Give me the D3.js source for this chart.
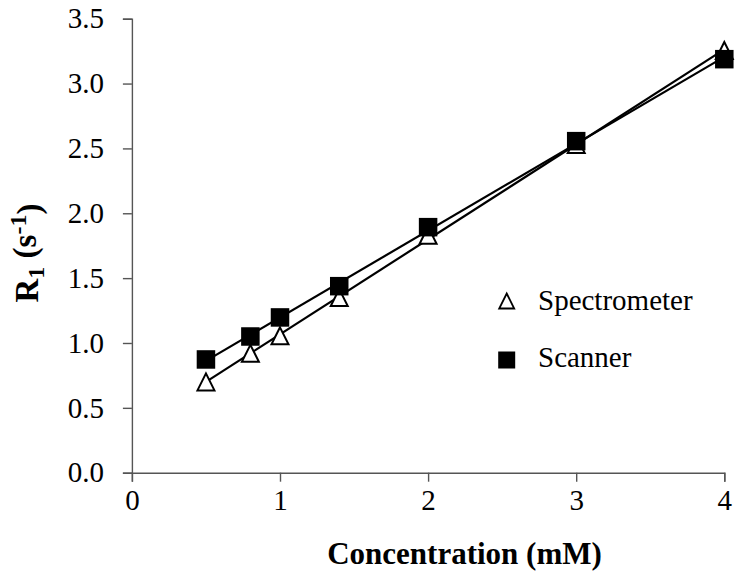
<!DOCTYPE html>
<html>
<head>
<meta charset="utf-8">
<script src="https://cdn.jsdelivr.net/npm/d3@7"></script>
<style>
  html, body { margin: 0; padding: 0; background: #fff; }
  svg { display: block; }
  svg text { font-family: "Liberation Serif", serif; }
</style>
</head>
<body>
<svg id="chart" width="736" height="576"></svg>
<script>
// ---- data ----
const concentrations = [0.5, 0.8, 1.0, 1.4, 2.0, 3.0, 4.0];
const spectrometer = [0.70, 0.92, 1.055, 1.35, 1.83, 2.53, 3.255];
const scanner = [0.873, 1.05, 1.197, 1.438, 1.893, 2.556, 3.188];
const seriesNames = ["Spectrometer", "Scanner"];
const xTicks = [0, 1, 2, 3, 4];
const yTicks = [0, 0.5, 1.0, 1.5, 2.0, 2.5, 3.0, 3.5];

// ---- layout ----
const svg = d3.select("#chart");
const plotLeft = 131.9, plotRight = 724.3, plotTop = 18.7, plotBottom = 472.7;
const x = d3.scaleLinear().domain([0, 4]).range([plotLeft, plotRight]);
const y = d3.scaleLinear().domain([0, 3.5]).range([plotBottom, plotTop]);
const font = "Liberation Serif";
const axisColor = "#555";

// axes
const xAxis = svg.append("g").attr("transform", `translate(0,${plotBottom})`)
  .call(d3.axisBottom(x).tickValues(xTicks).tickFormat(d3.format("d")).tickSizeOuter(0).tickSize(9).tickPadding(8));
const yAxis = svg.append("g").attr("transform", `translate(${plotLeft},0)`)
  .call(d3.axisLeft(y).tickValues(yTicks).tickFormat(d3.format(".1f")).tickSizeOuter(0).tickSize(9).tickPadding(19));
[xAxis, yAxis].forEach(g => {
  g.attr("font-family", font).attr("font-size", 29);
  g.selectAll("path.domain").attr("stroke", axisColor).attr("stroke-width", 1.4);
  g.selectAll(".tick line").attr("stroke", axisColor).attr("stroke-width", 1.4);
  g.selectAll(".tick text").attr("fill", "#000");
});

// regression trend lines
function fit(xs, ys) {
  const n = xs.length;
  const mx = d3.mean(xs), my = d3.mean(ys);
  let sxy = 0, sxx = 0;
  for (let i = 0; i < n; i++) { sxy += (xs[i]-mx)*(ys[i]-my); sxx += (xs[i]-mx)**2; }
  const b = sxy / sxx, a = my - b*mx;
  return v => a + b*v;
}
const xExtent = d3.extent(concentrations);
[spectrometer, scanner].forEach(vals => {
  const f = fit(concentrations, vals);
  svg.append("line")
    .attr("x1", x(xExtent[0])).attr("y1", y(f(xExtent[0])))
    .attr("x2", x(xExtent[1])).attr("y2", y(f(xExtent[1])))
    .attr("stroke", "#000").attr("stroke-width", 2.2);
});

// markers
const triSize = 19, sqSize = 18.5;
function triPath(cx, cy, s) {
  const h = s;
  return `M${cx},${cy - h/2}L${cx + s/2},${cy + h/2}L${cx - s/2},${cy + h/2}Z`;
}
svg.append("g").selectAll("path")
  .data(concentrations.map((c, i) => [c, spectrometer[i]]))
  .join("path")
  .attr("d", d => triPath(x(d[0]), y(d[1]), triSize - 2))
  .attr("fill", "#fff").attr("stroke", "#000").attr("stroke-width", 2);
svg.append("g").selectAll("rect")
  .data(concentrations.map((c, i) => [c, scanner[i]]))
  .join("rect")
  .attr("x", d => x(d[0]) - sqSize/2).attr("y", d => y(d[1]) - sqSize/2)
  .attr("width", sqSize).attr("height", sqSize)
  .attr("fill", "#000");

// legend
const leg = svg.append("g");
leg.append("path").attr("d", triPath(506.7, 301, 15))
  .attr("fill", "#fff").attr("stroke", "#000").attr("stroke-width", 1.8);
leg.append("rect").attr("x", 506.7 - 8.5).attr("y", 360 - 8.5).attr("width", 17).attr("height", 17).attr("fill", "#000");
leg.selectAll("text").data(seriesNames).join("text")
  .attr("x", 538).attr("y", (d, i) => i === 0 ? 309.5 : 367)
  .attr("font-family", font).attr("font-size", 29)
  .text(d => d);

// axis titles
svg.append("text")
  .attr("x", 464.5).attr("y", 564)
  .attr("text-anchor", "middle")
  .attr("font-family", font).attr("font-size", 31).attr("font-weight", "bold")
  .text("Concentration (mM)");

const yt = svg.append("text")
  .attr("transform", "translate(38,253) rotate(-90)")
  .attr("text-anchor", "middle")
  .attr("font-family", font).attr("font-size", 33).attr("font-weight", "bold");
yt.append("tspan").text("R");
yt.append("tspan").attr("dy", "0.25em").attr("font-size", 24).text("1");
yt.append("tspan").attr("dy", "-0.25em").text("\u00a0(s");
yt.append("tspan").attr("dy", "-0.42em").attr("font-size", 24).text("-1");
yt.append("tspan").attr("dy", "0.42em").text(")");
</script>
</body>
</html>
